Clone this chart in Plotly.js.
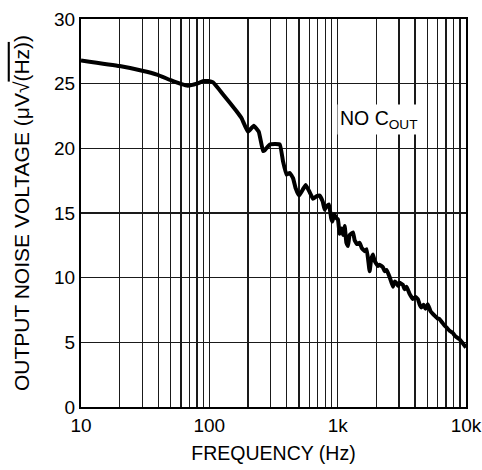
<!DOCTYPE html>
<html>
<head>
<meta charset="utf-8">
<script src="https://cdn.plot.ly/plotly-3.0.1.min.js"></script>
<style>html,body{margin:0;padding:0;background:#fff;}#chart{width:482px;height:470px;}</style>
</head>
<body>
<div id="chart"></div>
<script>
// Frequency (Hz)
var frequency = [10, 20, 30, 39, 50, 60, 68, 80, 90, 98, 107, 128, 163, 178, 200, 222, 243, 262, 270, 296, 354,
  375, 399, 423, 449, 471, 500, 534, 564, 606, 642, 686, 724, 764, 792, 821, 856, 890, 909, 939, 977,
  1005, 1036, 1069, 1104, 1134, 1169, 1203, 1240, 1316, 1356, 1413, 1483, 1538, 1623, 1682, 1774, 1823,
  1883, 1941, 2059, 2123, 2252, 2322, 2406, 2540, 2694, 2777, 2863, 2957, 3038, 3222, 3322, 3443, 3634,
  3855, 4046, 4216, 4346, 4480, 4669, 4839, 5042, 5292, 5514, 5788, 6000, 6220, 6506, 6802, 7050, 7440,
  7851, 8138, 8436, 8901, 9309, 10000];
// Output noise voltage (uV/sqrt(Hz))
var noise = [26.8, 26.36, 26.0, 25.7, 25.27, 24.98, 24.84, 25.0, 25.2, 25.2, 25.1, 24.17, 22.87, 22.35, 21.28, 21.75, 21.28, 19.8, 19.85, 20.3, 20.3,
  19.0, 17.97, 18.1, 17.7, 16.9, 16.35, 16.8, 17.17, 16.6, 16.1, 16.3, 16.35, 15.9, 15.26, 15.55, 15.66, 14.6, 14.35, 14.9, 14.6,
  14.5, 13.4, 13.8, 13.3, 14.0, 12.7, 12.45, 13.3, 13.5, 12.9, 12.6, 12.7, 12.3, 12.05, 12.2, 10.5, 11.4,
  11.8, 11.3, 10.9, 11.0, 10.8, 10.5, 10.6, 10.05, 9.3, 9.7, 9.6, 9.35, 9.6, 9.45, 9.1, 9.3, 8.75,
  8.35, 8.5, 8.35, 7.95, 7.7, 7.9, 7.6, 7.95, 7.4, 7.2, 7.0, 6.85, 6.8, 6.55, 6.3, 6.15, 5.9,
  5.75, 5.55, 5.4, 5.25, 5.0, 4.6];

var decadeLabels = {10: "10", 100: "100", 1000: "1k", 10000: "10k"};
var multipliers = [1, 2, 3, 4, 5, 6, 7, 8, 9];
var decades = [10, 100, 1000];
var xTickVals = [], xTickText = [];
decades.forEach(function (d) {
  multipliers.forEach(function (m) {
    var v = d * m;
    xTickVals.push(v);
    xTickText.push(decadeLabels[v] || " ");
  });
});
xTickVals.push(10000); xTickText.push(decadeLabels[10000]);

var yTickVals = [0, 5, 10, 15, 20, 25, 30];

var fam = "Liberation Sans, Arial, sans-serif";

var trace = {
  x: frequency, y: noise, type: "scatter", mode: "lines",
  line: {color: "#000", width: 4, shape: "spline", smoothing: 0.3},
  hoverinfo: "skip"
};

var layout = {
  width: 482, height: 470,
  margin: {l: 81, r: 16, t: 19, b: 63},
  paper_bgcolor: "#fff", plot_bgcolor: "#fff",
  font: {family: fam, size: 19, color: "#000"},
  showlegend: false,
  xaxis: {
    type: "log", range: [1, 4],
    tickmode: "array", tickvals: xTickVals, ticktext: xTickText,
    tickangle: 0,
    showgrid: true, gridcolor: "#1a1a1a", gridwidth: 1.4,
    showline: true, mirror: true, linecolor: "#000", linewidth: 2,
    ticks: "", zeroline: false,
    tickfont: {family: fam, size: 19, color: "#000"},
    title: {text: "FREQUENCY (Hz)", font: {family: fam, size: 19.5, color: "#000"}, standoff: 12}
  },
  yaxis: {
    range: [0, 30],
    tickmode: "array", tickvals: yTickVals,
    tickangle: 0,
    showgrid: true, gridcolor: "#1a1a1a", gridwidth: 1.4,
    showline: true, mirror: true, linecolor: "#000", linewidth: 2,
    ticks: "", zeroline: false,
    tickfont: {family: fam, size: 19, color: "#000"},
    title: {text: "OUTPUT NOISE VOLTAGE (\u03bcV\u221a<span style=\"text-decoration:overline\">(Hz)</span>)", font: {family: fam, size: 21, color: "#000"}, standoff: 19}
  },
  annotations: [{
    x: Math.log10(2100), y: 22.2, xref: "x", yref: "y",
    text: "NO C<sub>OUT</sub>", showarrow: false,
    bgcolor: "#fff", borderpad: 2,
    font: {family: fam, size: 19.5, color: "#000"}
  }]
};

Plotly.newPlot("chart", [trace], layout, {staticPlot: true, displayModeBar: false});
</script>
</body>
</html>
